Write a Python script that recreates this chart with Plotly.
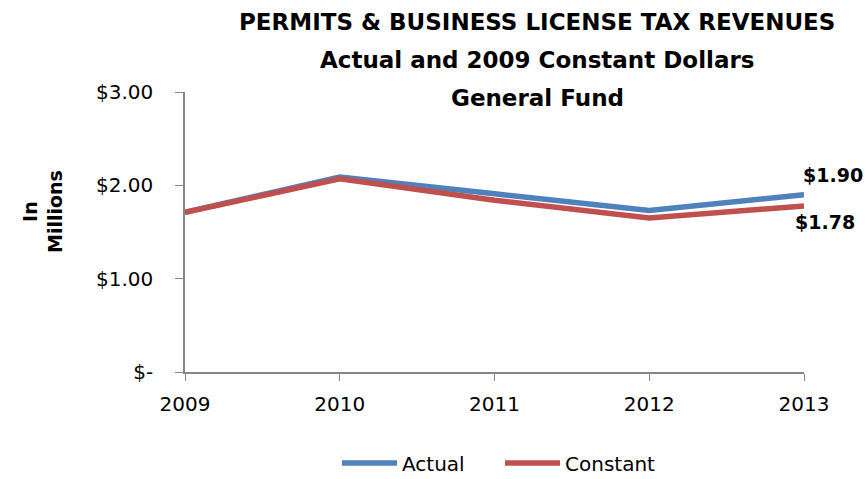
import plotly.graph_objects as go

years = ["2009", "2010", "2011", "2012", "2013"]
actual = [1.71, 2.09, 1.91, 1.73, 1.90]
constant = [1.71, 2.07, 1.84, 1.65, 1.78]
y_ticks = [0, 1, 2, 3]
y_tick_text = ["$-", "$1.00", "$2.00", "$3.00"]

FONT = "'DejaVu Sans', Verdana, sans-serif"
BLUE = "#4F81BD"
RED = "#C0504D"
AXIS_GREY = "#868686"

fig = go.Figure()
fig.add_trace(go.Scatter(x=years, y=actual, mode="lines", name="Actual",
                         line=dict(color=BLUE, width=5.5)))
fig.add_trace(go.Scatter(x=years, y=constant, mode="lines", name="Constant",
                         line=dict(color=RED, width=5.5)))

# value labels at the last year
last = len(years) - 1
fig.add_annotation(x=last, y=actual[last], text="<b>$%.2f</b>" % actual[last],
                   showarrow=False, xanchor="left", yanchor="bottom",
                   xshift=-3, yshift=7, font=dict(size=19, color="black", family=FONT))
fig.add_annotation(x=last, y=constant[last], text="<b>$%.2f</b>" % constant[last],
                   showarrow=False, xanchor="left", yanchor="top",
                   xshift=-11, yshift=-3, font=dict(size=19, color="black", family=FONT))

# three-line title block
title_lines = ["PERMITS & BUSINESS LICENSE TAX REVENUES",
               "Actual and 2009 Constant Dollars",
               "General Fund"]
for i, t in enumerate(title_lines):
    fig.add_annotation(xref="paper", yref="paper", x=(537 - 185) / 619,
                       y=1 + (92 - (22 + 38 * i)) / 280, text="<b>%s</b>" % t,
                       showarrow=False, xanchor="center", yanchor="middle",
                       font=dict(size=23, color="black", family=FONT))

# y-axis title
fig.add_annotation(xref="paper", yref="paper", x=(42 - 185) / 619, y=(372 - 212) / 280,
                   text="<b>In<br>Millions</b>", showarrow=False, textangle=-90,
                   xanchor="center", yanchor="middle",
                   font=dict(size=19, color="black", family=FONT))

fig.update_layout(
    width=867, height=479,
    margin=dict(l=185, r=63, t=92, b=107, autoexpand=False),
    paper_bgcolor="white", plot_bgcolor="white",
    font=dict(family=FONT, color="black", size=20),
    showlegend=True,
    legend=dict(orientation="h", x=(500 - 185) / 619, xanchor="center",
                yref="container", y=(479 - 463) / 479, yanchor="middle",
                font=dict(size=20, family=FONT), itemwidth=55, entrywidth=93,
                tracegroupgap=0),
    xaxis=dict(type="category", range=[0, last], showgrid=False, showline=True,
               linecolor=AXIS_GREY, linewidth=1.5, ticks="outside", ticklen=7,
               tickcolor=AXIS_GREY, tickfont=dict(size=20), zeroline=False,
               ticklabelstandoff=6, automargin=False),
    yaxis=dict(range=[0, 3], tickvals=y_ticks, ticktext=y_tick_text, showgrid=False,
               showline=True, linecolor=AXIS_GREY, linewidth=1.5, ticks="outside",
               ticklen=8, tickcolor=AXIS_GREY, tickfont=dict(size=20),
               ticklabelstandoff=18, zeroline=False, automargin=False),
)

fig.write_html("out.html")
